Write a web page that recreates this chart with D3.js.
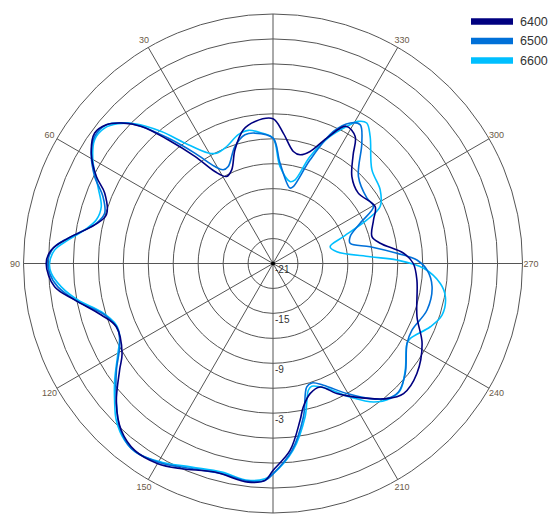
<!DOCTYPE html>
<html>
<head>
<meta charset="utf-8">
<script src="https://cdn.jsdelivr.net/npm/d3@7"></script>
<style>
  html, body { margin: 0; padding: 0; background: #fff; }
  svg { display: block; }
</style>
</head>
<body>
<svg id="chart" width="559" height="515"></svg>
<script>
// ---- data (angle in degrees, counter-clockwise from top; gain in dB) ----
const seriesNames = ["6400", "6500", "6600"];
const seriesColors = ["#000080", "#0070d8", "#00bfff"];

const angles6400 = [0, 7.2, 12.5, 18.5, 23.8, 28.1, 32.3, 36.1, 40.3, 43.8, 47.2, 50.2, 53.8, 58.7, 63.8, 67.3, 73.7, 77.8, 83.0, 86.5, 90, 96.1, 100.4, 106.7, 112.0, 120.8, 124.8, 131.8, 137.7, 143.5, 150.1, 156.0, 164.4, 173.5, 177.9, 180, 185.2, 189.8, 191.9, 195.9, 200.9, 206.1, 211.1, 220.1, 225.1, 232.6, 241.8, 249.7, 263.4, 270, 274.5, 280.7, 285.2, 293.4, 299.1, 309.7, 317.8, 323.6, 327.1, 332.0, 336.8, 341.7, 346.0, 349.7, 355.5];
const gain6400 = [-3.6, -3.78, -4.52, -6.58, -8.69, -9.14, -7.92, -5.06, -1.49, 1.84, 3.86, 5.07, 5.57, 4.57, 2.67, 0.94, -0.13, 0.94, 3.84, 5.71, 6.27, 5.41, 3.25, 0.55, -0.69, 0.13, 1.46, 4.27, 6.11, 6.95, 6.76, 6.01, 5.04, 5.46, 5.10, 3.88, 1.57, -1.87, -3.36, -4.73, -5.11, -3.58, -2.27, 0.24, 1.16, 0.78, -0.66, -2.54, -3.58, -4.13, -5.25, -7.88, -8.67, -7.83, -6.94, -7.70, -6.88, -4.76, -2.81, -2.3, -4.59, -6.81, -7.53, -7.31, -5.27];

const angles6500 = [0, 7.9, 12.3, 18.0, 24.8, 28.0, 30.9, 35.3, 39.9, 43.8, 46.5, 50.2, 54.5, 58.7, 64.0, 68.5, 73.4, 77.2, 81.8, 85.6, 89.1, 92.5, 96.2, 101.1, 107.0, 113.3, 118.5, 124.3, 131.1, 136.8, 142.6, 150.0, 158.3, 166.3, 173.5, 177.9, 180, 185.8, 191.2, 195.3, 198.0, 202.5, 209.6, 215.7, 220.1, 224.3, 230.2, 239.2, 244.4, 253.2, 261.7, 267.6, 271.4, 274.7, 279.8, 284.7, 289.2, 294.8, 299.5, 304.8, 315.5, 323.6, 327.9, 331.2, 335.4, 340.3, 345.2, 347.3, 356.0];
const gain6500 = [-5.92, -5.17, -5.16, -6.2, -8.16, -8.24, -7.41, -4.73, -1.34, 1.84, 3.57, 5.07, 5.33, 4.57, 2.86, 0.98, 0.12, 0.78, 3.10, 5.34, 6.07, 5.89, 5.02, 2.90, 0.17, -0.71, -0.01, 1.79, 4.0, 5.95, 7.03, 6.59, 5.54, 5.02, 5.34, 5.10, 4.3, 1.59, -2.18, -5.61, -5.9, -5.16, -3.01, -0.99, 0.24, 0.6, -0.31, -2.24, -2.47, -1.65, -1.67, -2.47, -3.69, -6.05, -9.14, -11.41, -11.18, -9.46, -7.11, -7.24, -6.34, -3.0, -1.29, -1.72, -3.54, -7.76, -11.43, -11.7, -8.9];

const angles6600 = [0, 5.0, 10.5, 15.1, 21.6, 27.1, 30.4, 36.2, 40.2, 44.7, 48.0, 51.2, 55.2, 60.1, 66.3, 71.7, 76.1, 79.9, 83.5, 86.5, 90, 92.5, 96.3, 100.6, 105.7, 111.5, 115.6, 120.1, 126.4, 130.8, 135.0, 140.0, 144.6, 150.7, 158.2, 166.2, 173.5, 177.9, 180, 186.1, 191.8, 195.6, 197.5, 203.3, 210.0, 216.0, 221.0, 225.1, 231.1, 239.2, 241.4, 248.1, 253.0, 259.1, 263.2, 268.2, 271.6, 274.0, 280.5, 286.4, 290.9, 294.9, 298.0, 304.5, 313.5, 322.6, 326.3, 329.0, 331.7, 335.8, 340.9, 345.2, 348.3, 355.9];
const gain6600 = [-5.92, -5.25, -4.72, -4.96, -5.87, -6.10, -5.6, -3.05, -0.22, 2.64, 4.10, 4.98, 5.11, 3.99, 1.99, 0.75, 0.88, 2.01, 3.82, 5.31, 5.87, 5.69, 4.61, 2.87, 0.45, -0.76, -0.57, 0.55, 2.65, 4.16, 5.65, 6.75, 7.04, 6.39, 5.37, 4.83, 5.25, 4.90, 4.3, 1.6, -2.14, -5.18, -5.52, -4.63, -2.46, -0.42, 0.5, 0.6, -0.57, -2.24, -2.19, -0.61, 0.25, 0.11, -0.74, -2.88, -6.1, -9.29, -13.19, -13.84, -11.94, -8.55, -6.41, -5.36, -4.61, -1.77, -0.69, -1.06, -2.28, -4.25, -7.39, -10.59, -10.94, -9.3];

const angleTicks = [30, 60, 90, 120, 150, 210, 240, 270, 300, 330];
const spokeAngles = [0, 30, 60, 90, 120, 150, 180, 210, 240, 270, 300, 330];
const ringValues = [-18, -15, -12, -9, -6, -3, 0, 3, 6, 9];
const radialTickLabels = [-21, -15, -9, -3];

// ---- layout ----
const cx = 273, cy = 263.5, R = 249.5;
const svg = d3.select("#chart");
const r = d3.scaleLinear().domain([-21, 9]).range([0, R]);
const toRad = d => -d * Math.PI / 180; // counter-clockwise from top

const g = svg.append("g").attr("transform", `translate(${cx},${cy})`);

// rings
g.selectAll("circle.ring").data(ringValues).join("circle")
  .attr("class", "ring")
  .attr("r", d => r(d))
  .attr("fill", "none")
  .attr("stroke", "#555")
  .attr("stroke-width", 1);

// spokes
g.selectAll("line.spoke").data(spokeAngles).join("line")
  .attr("class", "spoke")
  .attr("x1", 0).attr("y1", 0)
  .attr("x2", d => R * Math.sin(toRad(d)))
  .attr("y2", d => -R * Math.cos(toRad(d)))
  .attr("stroke", "#555")
  .attr("stroke-width", 1);

// center dot
g.append("circle").attr("r", 2).attr("fill", "#000");

// angle labels
g.selectAll("text.ang").data(angleTicks).join("text")
  .attr("class", "ang")
  .attr("x", d => 258 * Math.sin(toRad(d)))
  .attr("y", d => -258 * Math.cos(toRad(d)))
  .attr("text-anchor", "middle")
  .attr("dominant-baseline", "central")
  .attr("font-family", "Liberation Sans, Arial, sans-serif")
  .attr("font-size", 9)
  .attr("fill", "#6a5a48")
  .text(d => d);

// radial labels
g.selectAll("text.rad").data(radialTickLabels).join("text")
  .attr("class", "rad")
  .attr("x", 2)
  .attr("y", d => r(d) + 6)
  .attr("dominant-baseline", "central")
  .attr("font-family", "Liberation Sans, Arial, sans-serif")
  .attr("font-size", 10)
  .attr("fill", "#333")
  .text(d => d);

// series
const series = [
  { name: seriesNames[0], color: seriesColors[0], a: angles6400, v: gain6400 },
  { name: seriesNames[1], color: seriesColors[1], a: angles6500, v: gain6500 },
  { name: seriesNames[2], color: seriesColors[2], a: angles6600, v: gain6600 }
];

const line = d3.lineRadial()
  .angle(d => toRad(d[0]))
  .radius(d => r(d[1]))
  .curve(d3.curveCatmullRomClosed.alpha(0.5));

// draw light first so navy on top? draw in reverse order
series.slice().reverse().forEach(s => {
  const pts = s.a.map((ang, i) => [ang, s.v[i]]);
  g.append("path")
    .attr("d", line(pts))
    .attr("fill", "none")
    .attr("stroke", s.color)
    .attr("stroke-width", 1.6);
});

// legend
const leg = svg.append("g");
series.forEach((s, i) => {
  const y = 21.5 + i * 19.5;
  leg.append("line")
    .attr("x1", 471).attr("x2", 513)
    .attr("y1", y).attr("y2", y)
    .attr("stroke", s.color)
    .attr("stroke-width", 6.5);
  leg.append("text")
    .attr("x", 520).attr("y", y)
    .attr("dominant-baseline", "central")
    .attr("font-family", "Liberation Sans, Arial, sans-serif")
    .attr("font-size", 12.5)
    .attr("fill", "#333")
    .text(s.name);
});
</script>
</body>
</html>
